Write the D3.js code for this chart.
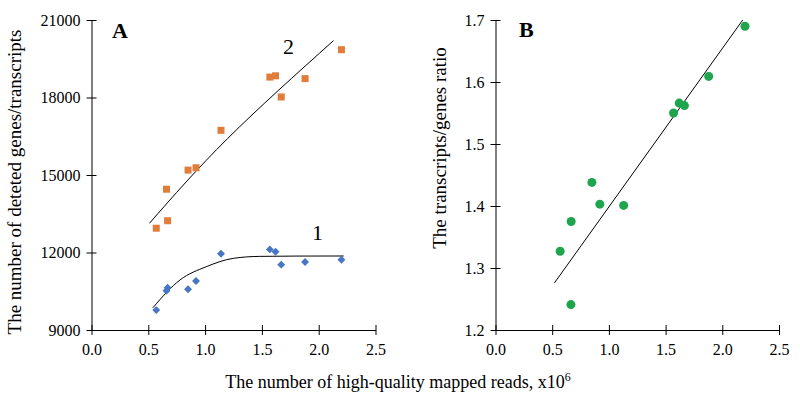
<!DOCTYPE html>
<html>
<head>
<meta charset="utf-8">
<script src="https://cdn.jsdelivr.net/npm/d3@7"></script>
<style>
	body { margin: 0; background: #fff; }
	svg, svg text { font-family: "Liberation Serif", "Times New Roman", serif; }
</style>
</head>
<body>
<svg id="chart"></svg>
<script>
// samples (x = mapped reads, x10^6)
const readsA = [0.57, 0.66, 0.67, 0.85, 0.92, 1.14, 1.57, 1.62, 1.67, 1.88, 2.20];
const genes = [9770, 10520, 10640, 10580, 10900, 11950, 12120, 12030, 11530, 11630, 11720];
const transcripts = [12940, 14450, 13230, 15190, 15280, 16730, 18790, 18840, 18020, 18730, 19850];

const readsB = [0.57, 0.665, 0.667, 0.85, 0.92, 1.13, 1.57, 1.62, 1.666, 1.88, 2.20];
const ratio = [1.327, 1.241, 1.375, 1.438, 1.403, 1.401, 1.550, 1.566, 1.562, 1.609, 1.690];

// trendlines
const trend1X = [0.54, 0.78, 1.01, 1.25, 1.48, 1.80, 2.22];
const trend1Y = [9860, 10940, 11450, 11775, 11850, 11862, 11865];
const trend2X = [0.51, 1.20, 2.13];
const trend2Y = [13130, 16420, 20200];
const trendBX = [0.52, 2.18];
const trendBY = [1.276, 1.70];

const xTicks = [0, 0.5, 1, 1.5, 2, 2.5];
const yTicksA = [9000, 12000, 15000, 18000, 21000];
const yTicksB = [1.2, 1.3, 1.4, 1.5, 1.6, 1.7];

const width = 800, height = 395;
const svg = d3.select("#chart").attr("width", width).attr("height", height);

const plotTop = 20, plotBottom = 330;
const serif = "'Liberation Serif', 'Times New Roman', serif";

function panel(left, right, yDomain, yTicks, yFmt) {
	const x = d3.scaleLinear([0, 2.5], [left, right]);
	const y = d3.scaleLinear(yDomain, [plotBottom, plotTop]);

	svg.append("g")
	   .attr("transform", `translate(0, ${plotBottom})`)
	   .call(d3.axisBottom(x).tickValues(xTicks).tickFormat(d3.format(".1f")).tickSize(5).tickSizeOuter(0).tickPadding(6))
	   .attr("font-family", serif).attr("font-size", 16)
	   .call(g => g.selectAll(".tick line").attr("y1", -5))
	   .call(g => g.selectAll(".tick text").attr("fill", "#000").attr("dy", "0.85em"));

	svg.append("g")
	   .attr("transform", `translate(${left}, 0)`)
	   .call(d3.axisLeft(y).tickValues(yTicks).tickFormat(yFmt).tickSize(5).tickSizeOuter(0).tickPadding(6))
	   .attr("font-family", serif).attr("font-size", 16)
	   .call(g => g.selectAll(".tick line").attr("x1", 5))
	   .call(g => g.selectAll(".tick text").attr("fill", "#000"));

	return { x, y };
}

// panel A
const A = panel(91.5, 375.5, [9000, 21000], yTicksA, d3.format("d"));

svg.append("path")
   .attr("d", d3.line().x(d => A.x(d[0])).y(d => A.y(d[1])).curve(d3.curveMonotoneX)(d3.zip(trend1X, trend1Y)))
   .attr("fill", "none").attr("stroke", "#000").attr("stroke-width", 1);
svg.append("path")
   .attr("d", d3.line().x(d => A.x(d[0])).y(d => A.y(d[1])).curve(d3.curveNatural)(d3.zip(trend2X, trend2Y)))
   .attr("fill", "none").attr("stroke", "#000").attr("stroke-width", 1);

svg.append("g")
   .selectAll("rect")
   .data(d3.zip(readsA, transcripts))
   .join("rect")
   .attr("x", d => A.x(d[0]) - 3.5)
   .attr("y", d => A.y(d[1]) - 3.5)
   .attr("width", 7)
   .attr("height", 7)
   .attr("fill", "#E07D3A");

svg.append("g")
   .selectAll("path")
   .data(d3.zip(readsA, genes))
   .join("path")
   .attr("d", d3.symbol(d3.symbolDiamond2, 40))
   .attr("transform", d => `translate(${A.x(d[0])}, ${A.y(d[1])})`)
   .attr("fill", "#4676C4");

svg.append("text").attr("x", 112).attr("y", 38)
   .attr("font-size", 22).attr("font-weight", "bold").text("A");
svg.append("text").attr("x", 283).attr("y", 54)
   .attr("font-size", 22).text("2");
svg.append("text").attr("x", 312).attr("y", 240)
   .attr("font-size", 22).text("1");

svg.append("text")
   .attr("transform", `translate(21, 182) rotate(-90)`)
   .attr("text-anchor", "middle")
   .attr("font-size", 19)
   .text("The number of deteted genes/transcripts");

// panel B
const B = panel(495.5, 779, [1.2, 1.7], yTicksB, d3.format(".1f"));

svg.append("path")
   .attr("d", d3.line().x(d => B.x(d[0])).y(d => B.y(d[1]))(d3.zip(trendBX, trendBY)))
   .attr("fill", "none").attr("stroke", "#000").attr("stroke-width", 1);

svg.append("g")
   .selectAll("circle")
   .data(d3.zip(readsB, ratio))
   .join("circle")
   .attr("cx", d => B.x(d[0]))
   .attr("cy", d => B.y(d[1]))
   .attr("r", 4.5)
   .attr("fill", "#1EA54E");

svg.append("text").attr("x", 519).attr("y", 37)
   .attr("font-size", 22).attr("font-weight", "bold").text("B");

svg.append("text")
   .attr("transform", `translate(446, 148) rotate(-90)`)
   .attr("text-anchor", "middle")
   .attr("font-size", 19)
   .text("The transcripts/genes ratio");

// shared x title
const xt = svg.append("text")
   .attr("x", 398).attr("y", 388)
   .attr("text-anchor", "middle")
   .attr("font-size", 18);
xt.append("tspan").text("The number of high-quality mapped reads, x10");
xt.append("tspan").attr("dy", -7).attr("font-size", 12).text("6");
</script>
</body>
</html>
